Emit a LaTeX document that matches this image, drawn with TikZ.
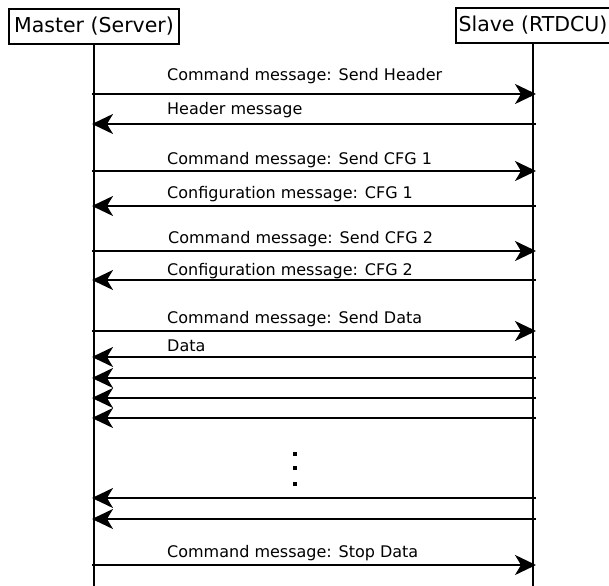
\documentclass[tikz,border=0pt]{standalone}
\usepackage{fontspec}
\setmainfont{DejaVu Sans}
\usetikzlibrary{arrows.meta}
\tikzset{
  actor/.style={draw,line width=1.5pt,minimum height=35pt,inner sep=0pt,font=\fontsize{20.5}{24}\selectfont},
  life/.style={line width=2pt},
  msg/.style={line width=2pt,arrows={-Stealth[length=21pt,width=20pt,inset=6pt]}},
  lbl/.style={anchor=base west,inner sep=0pt,font=\fontsize{16}{19}\selectfont},
  dotbox/.style={fill,inner sep=0pt,minimum size=4.5pt}
}
\begin{document}
\begin{tikzpicture}[x=1pt,y=-1pt]
\useasboundingbox (0,0) rectangle (609,585);
\node[actor,minimum width=170pt] (master) at (94,26.5) {Master (Server)};
\node[actor,minimum width=154pt] (slave) at (533,25.5) {Slave (RTDCU)};
\coordinate (mend) at (94,590);
\coordinate (send) at (533,590);
\draw[life] (master.south) -- (mend);
\draw[life] (slave.south) -- (send);
\foreach \i/\y in {1/94,2/124,3/171,4/206,5/251,6/280,7/331,8/357,9/378,10/398,11/418,12/498,13/519,14/565}{
  \coordinate (m\i) at (92,\y);
  \coordinate (s\i) at (536,\y);
}
% requests
\foreach \i in {1,3,5,7,14}{ \draw[msg] (m\i) -- (s\i); }
% responses
\foreach \i in {2,4,6,8,9,10,11,12,13}{ \draw[msg] (s\i) -- (m\i); }
% labels
\node[lbl] (l1) at (167,81) {Command message: Send Header};
\node[lbl] (l2) at (167,115) {Header message};
\node[lbl] (l3) at (167,165) {Command message: Send CFG 1};
\node[lbl] (l4) at (167,198) {Configuration message: CFG 1};
\node[lbl] (l5) at (168,243) {Command message: Send CFG 2};
\node[lbl] (l6) at (167,275) {Configuration message: CFG 2};
\node[lbl] (l7) at (167,323) {Command message: Send Data};
\node[lbl] (l8) at (167,351.5) {Data};
\node[lbl] (l14) at (167,557) {Command message: Stop Data};
% ellipsis
\node[dotbox] (d1) at (295,454) {};
\node[dotbox] (d2) at (295,468) {};
\node[dotbox] (d3) at (295,484) {};
\end{tikzpicture}
\end{document}
